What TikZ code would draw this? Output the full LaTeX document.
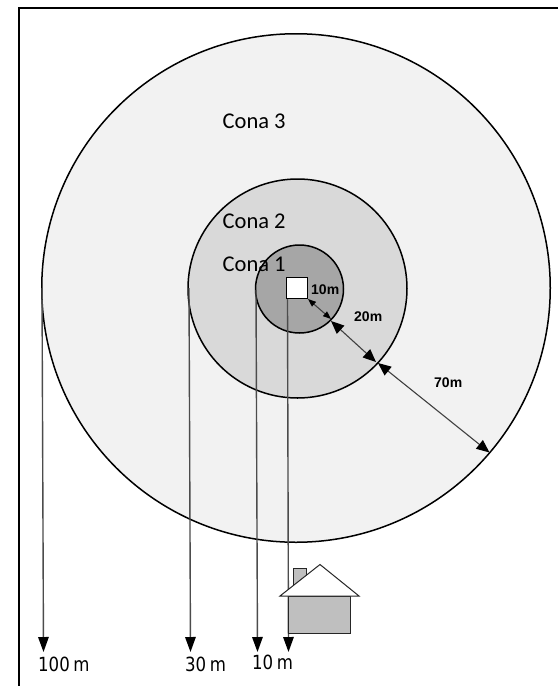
\documentclass[tikz,border=0pt]{standalone}
\usepackage{fontspec}
\setmainfont{Carlito}
\newfontfamily\smallfont{Liberation Sans}
\newfontfamily\dimfont[FakeStretch=0.85]{DejaVu Sans}
\usetikzlibrary{arrows.meta}
\definecolor{zthree}{HTML}{F2F2F2}
\definecolor{ztwo}{HTML}{D9D9D9}
\definecolor{zone}{HTML}{A6A6A6}
\definecolor{hse}{HTML}{BFBFBF}
\tikzset{
  x=1pt,y=-1pt,
  zonecirc/.style={circle,draw=black,line width=1.5pt,inner sep=0pt,outer sep=0pt},
  conalabel/.style={font=\fontsize{22.5}{23}\selectfont,anchor=base west,inner sep=0pt},
  smalllabel/.style={font=\smallfont\bfseries\fontsize{14}{14}\selectfont,anchor=base west,inner sep=0pt},
  dimlabel/.style={font=\dimfont\fontsize{19.5}{20}\selectfont,anchor=base west,inner sep=0pt},
  droparrow/.style={draw=black!70,line width=1.4pt,-{Triangle[length=15pt,width=10.5pt,black]}},
  radarrow/.style={draw=black!75,line width=1.1pt,{Triangle[length=13pt,width=11pt,black]}-{Triangle[length=13pt,width=11pt,black]}},
  radarrowsm/.style={draw=black!75,line width=1.1pt,{Triangle[length=8pt,width=6pt,black]}-{Triangle[length=8pt,width=6pt,black]}},
  housepart/.style={draw=black!85,line width=1pt},
}
\begin{document}
\begin{tikzpicture}
\useasboundingbox (0,0) rectangle (558,686);
\fill[white] (0,0) rectangle (558,686);
% frame
\coordinate (ftr) at (558,8);
\coordinate (ftl) at (19,8);
\coordinate (fbl) at (19,686);
\draw[black,line width=1.6pt] (ftr) -- (ftl) -- (fbl);
% zones
\node[zonecirc,fill=zthree,minimum size=508.5pt] (c3) at (296,288) {};
\node[zonecirc,fill=ztwo,minimum size=219pt] (c2) at (297.5,288.5) {};
\node[zonecirc,fill=zone,minimum size=88pt] (c1) at (299.5,289) {};
\node[draw=black,line width=1.3pt,fill=white,minimum size=21pt,inner sep=0pt,outer sep=0pt] (sq) at (297,288) {};
% labels
\node[conalabel] (l3) at (222.5,128) {Cona 3};
\node[conalabel] (l2) at (222.5,228) {Cona 2};
\node[conalabel] (l1) at (222.5,271) {Cona 1};
\node[smalllabel] (m10) at (311,294) {10m};
\node[smalllabel] (m20) at (354,321) {20m};
\node[smalllabel] (m70) at (434,387) {70m};
% radial dimension arrows
\coordinate (a0) at (308,299);
\coordinate (a1) at (331,319);
\coordinate (a2) at (331,321);
\coordinate (a3) at (376,362);
\coordinate (a4) at (378,363);
\coordinate (a5) at (489.5,452.5);
\draw[radarrowsm] (a0) -- (a1);
\draw[radarrow] (a2) -- (a3);
\draw[radarrow] (a4) -- (a5);
% drop arrows
\coordinate (d1a) at (42,288);
\coordinate (d1b) at (43.5,652);
\coordinate (d2a) at (189,288);
\coordinate (d2b) at (190.5,652);
\coordinate (d3a) at (256,290);
\coordinate (d3b) at (257.5,652);
\coordinate (d4a) at (287.5,299);
\coordinate (d4b) at (288.5,652);
\draw[droparrow] (d1a) -- (d1b);
\draw[droparrow] (d2a) -- (d2b);
\draw[droparrow] (d3a) -- (d3b);
\draw[droparrow] (d4a) -- (d4b);
% house
\node[housepart,fill=hse,minimum width=13.5pt,minimum height=24pt,inner sep=0pt,outer sep=0pt] (chim) at (299.8,580) {};
\node[housepart,fill=hse,minimum width=62pt,minimum height=37pt,inner sep=0pt,outer sep=0pt] (body) at (319,614.5) {};
\coordinate (rl) at (280,596);
\coordinate (rt) at (320,564.5);
\coordinate (rr) at (359,596);
\filldraw[housepart,fill=white] (rl) -- (rt) -- (rr) -- cycle;
\node[dimlabel] (t100) at (38,671) {100\hspace{3.5pt}m};
\node[dimlabel] (t30) at (185,671) {30\hspace{3.5pt}m};
\node[dimlabel] (t10) at (252,669) {10\hspace{3.5pt}m};
\end{tikzpicture}
\end{document}
